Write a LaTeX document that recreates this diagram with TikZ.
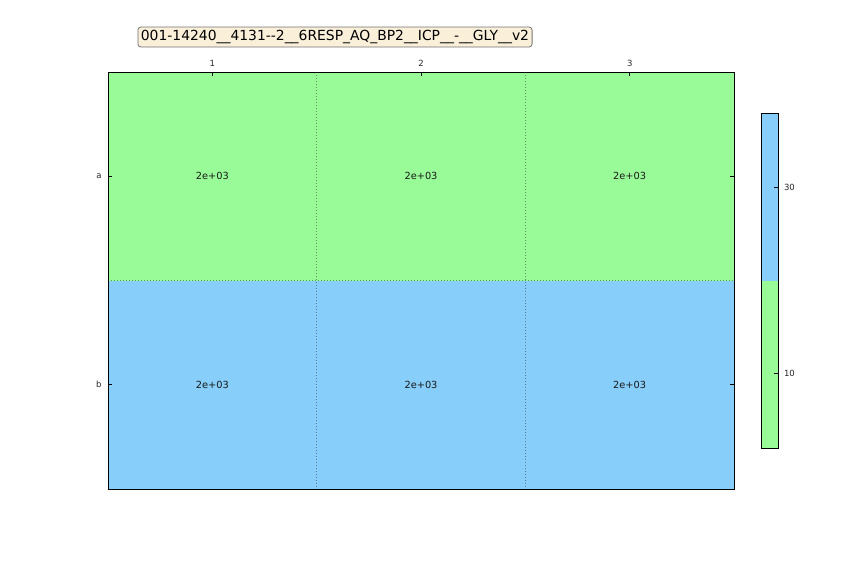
\documentclass[tikz,border=0pt]{standalone}
\usepackage{fontspec}
\setmainfont{DejaVu Sans}
\definecolor{pgreen}{HTML}{98FB98}
\definecolor{lblue}{HTML}{87CEFA}
\definecolor{wheatbg}{HTML}{FAEFD9}
\begin{document}
\begin{tikzpicture}[x=1pt,y=-1pt,
  celltxt/.style={font=\fontsize{9.8}{10}\selectfont, text=black!90},
  ticklbl/.style={font=\fontsize{8.5}{9}\selectfont, text=black!85},
  gridln/.style={black, opacity=0.4, dash pattern=on 1pt off 2pt, line width=0.6pt},
  tickln/.style={black, line width=0.5pt},
  frame/.style={black, line width=1pt}]
\useasboundingbox (0,0) rectangle (864,576);
% cells
\fill[pgreen] (108,72) rectangle (734,280.5);
\fill[lblue] (108,280.5) rectangle (734,489);
% grid
\draw[gridln] (316.7,72) -- (316.7,489);
\draw[gridln] (525.3,72) -- (525.3,489);
\draw[gridln] (108,280.5) -- (734,280.5);
% ticks
\foreach \x/\l in {212.3/1,421/2,629.7/3}{
  \draw[tickln] (\x,72) -- (\x,76);
  \node[ticklbl, anchor=base] at (\x,66) {\l};
}
\foreach \y/\l in {176.2/a,384.7/b}{
  \draw[tickln] (108,\y) -- (112,\y);
  \draw[tickln] (734,\y) -- (730,\y);
  \node[ticklbl, anchor=east] at (105,\y) {\l};
}
\draw[frame] (108,72) rectangle (734,489);
% cell values
\foreach \x in {212.3,421,629.7}{
  \foreach \y in {176.2,384.7}{
    \node[celltxt] at (\x,\y) {2e+03};
  }
}
% colorbar
\fill[lblue] (761.7,113.3) rectangle (778.3,281);
\fill[pgreen] (761.7,281) rectangle (778.3,448.3);
\draw[tickln] (778.3,187.7) -- (774.3,187.7);
\draw[tickln] (778.3,373.3) -- (774.3,373.3);
\draw[frame] (761.7,113.3) rectangle (778.3,448.3);
\node[ticklbl, anchor=west] at (780.5,187.7) {30};
\node[ticklbl, anchor=west] at (780.5,373.3) {10};
% title
\node[draw=black!55, fill=wheatbg, rounded corners=3pt, line width=0.8pt,
  inner xsep=3pt, inner ysep=2.5pt, font=\fontsize{13.9}{14}\selectfont,
  minimum height=20pt] (title) at (335,37) {001-14240\_\_4131-{}-2\_\_6RESP\_AQ\_BP2\_\_ICP\_\_-\_\_GLY\_\_v2};
\end{tikzpicture}
\end{document}
